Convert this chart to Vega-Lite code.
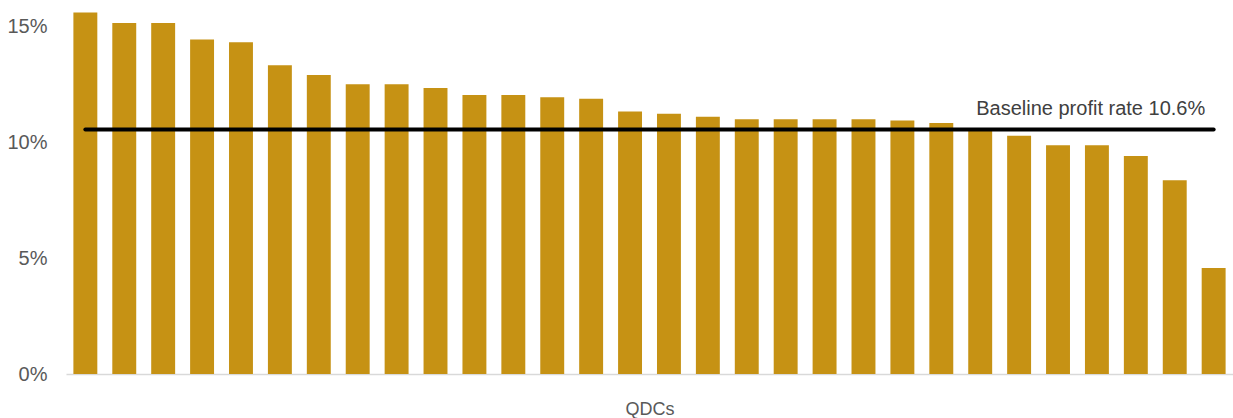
{
  "$schema": "https://vega.github.io/schema/vega-lite/v6.json",
  "width": 1167,
  "height": 371,
  "autosize": "none",
  "padding": {"left": 66, "top": 3, "right": 0, "bottom": 44},
  "config": {"view": {"stroke": null}, "font": "Liberation Sans"},
  "data": {
    "values": [
      {"qdc": "QDC 1", "rate": 0.1559, "baseline": 0.1054},
      {"qdc": "QDC 2", "rate": 0.1514, "baseline": 0.1054},
      {"qdc": "QDC 3", "rate": 0.1514, "baseline": 0.1054},
      {"qdc": "QDC 4", "rate": 0.1443, "baseline": 0.1054},
      {"qdc": "QDC 5", "rate": 0.1431, "baseline": 0.1054},
      {"qdc": "QDC 6", "rate": 0.1332, "baseline": 0.1054},
      {"qdc": "QDC 7", "rate": 0.1289, "baseline": 0.1054},
      {"qdc": "QDC 8", "rate": 0.1250, "baseline": 0.1054},
      {"qdc": "QDC 9", "rate": 0.1250, "baseline": 0.1054},
      {"qdc": "QDC 10", "rate": 0.1233, "baseline": 0.1054},
      {"qdc": "QDC 11", "rate": 0.1203, "baseline": 0.1054},
      {"qdc": "QDC 12", "rate": 0.1203, "baseline": 0.1054},
      {"qdc": "QDC 13", "rate": 0.1193, "baseline": 0.1054},
      {"qdc": "QDC 14", "rate": 0.1187, "baseline": 0.1054},
      {"qdc": "QDC 15", "rate": 0.1132, "baseline": 0.1054},
      {"qdc": "QDC 16", "rate": 0.1122, "baseline": 0.1054},
      {"qdc": "QDC 17", "rate": 0.1109, "baseline": 0.1054},
      {"qdc": "QDC 18", "rate": 0.1099, "baseline": 0.1054},
      {"qdc": "QDC 19", "rate": 0.1099, "baseline": 0.1054},
      {"qdc": "QDC 20", "rate": 0.1099, "baseline": 0.1054},
      {"qdc": "QDC 21", "rate": 0.1099, "baseline": 0.1054},
      {"qdc": "QDC 22", "rate": 0.1093, "baseline": 0.1054},
      {"qdc": "QDC 23", "rate": 0.1083, "baseline": 0.1054},
      {"qdc": "QDC 24", "rate": 0.1056, "baseline": 0.1054, "note": "Baseline profit rate 10.6%"},
      {"qdc": "QDC 25", "rate": 0.1027, "baseline": 0.1054},
      {"qdc": "QDC 26", "rate": 0.0987, "baseline": 0.1054},
      {"qdc": "QDC 27", "rate": 0.0987, "baseline": 0.1054},
      {"qdc": "QDC 28", "rate": 0.0940, "baseline": 0.1054},
      {"qdc": "QDC 29", "rate": 0.0836, "baseline": 0.1054},
      {"qdc": "QDC 30", "rate": 0.0457, "baseline": 0.1054}
    ]
  },
  "encoding": {
    "x": {
      "field": "qdc",
      "type": "nominal",
      "sort": null,
      "scale": {"paddingInner": 0.385, "paddingOuter": 0.19},
      "axis": {
        "title": "QDCs",
        "labels": false,
        "ticks": false,
        "domainColor": "#D9D9D9",
        "domainWidth": 1.5,
        "titleFontSize": 18,
        "titleFontWeight": "normal",
        "titleColor": "#595959",
        "titlePadding": 26
      }
    }
  },
  "layer": [
    {
      "mark": {"type": "bar", "color": "#C69214"},
      "encoding": {
        "y": {
          "field": "rate",
          "type": "quantitative",
          "scale": {"domain": [0, 0.16]},
          "axis": {
            "title": null,
            "format": ".0%",
            "values": [0, 0.05, 0.1, 0.15],
            "grid": false,
            "ticks": false,
            "domain": false,
            "labelFontSize": 20,
            "labelColor": "#595959",
            "labelPadding": 19
          }
        }
      }
    },
    {
      "mark": {"type": "line", "color": "#000000", "strokeWidth": 4, "strokeCap": "round"},
      "encoding": {
        "y": {"field": "baseline", "type": "quantitative", "title": null}
      }
    },
    {
      "transform": [{"filter": "isValid(datum.note)"}],
      "mark": {"type": "text", "align": "left", "baseline": "middle", "dx": -4, "dy": -21, "fontSize": 20, "color": "#404040"},
      "encoding": {
        "y": {"field": "baseline", "type": "quantitative", "title": null},
        "text": {"field": "note"}
      }
    }
  ]
}
